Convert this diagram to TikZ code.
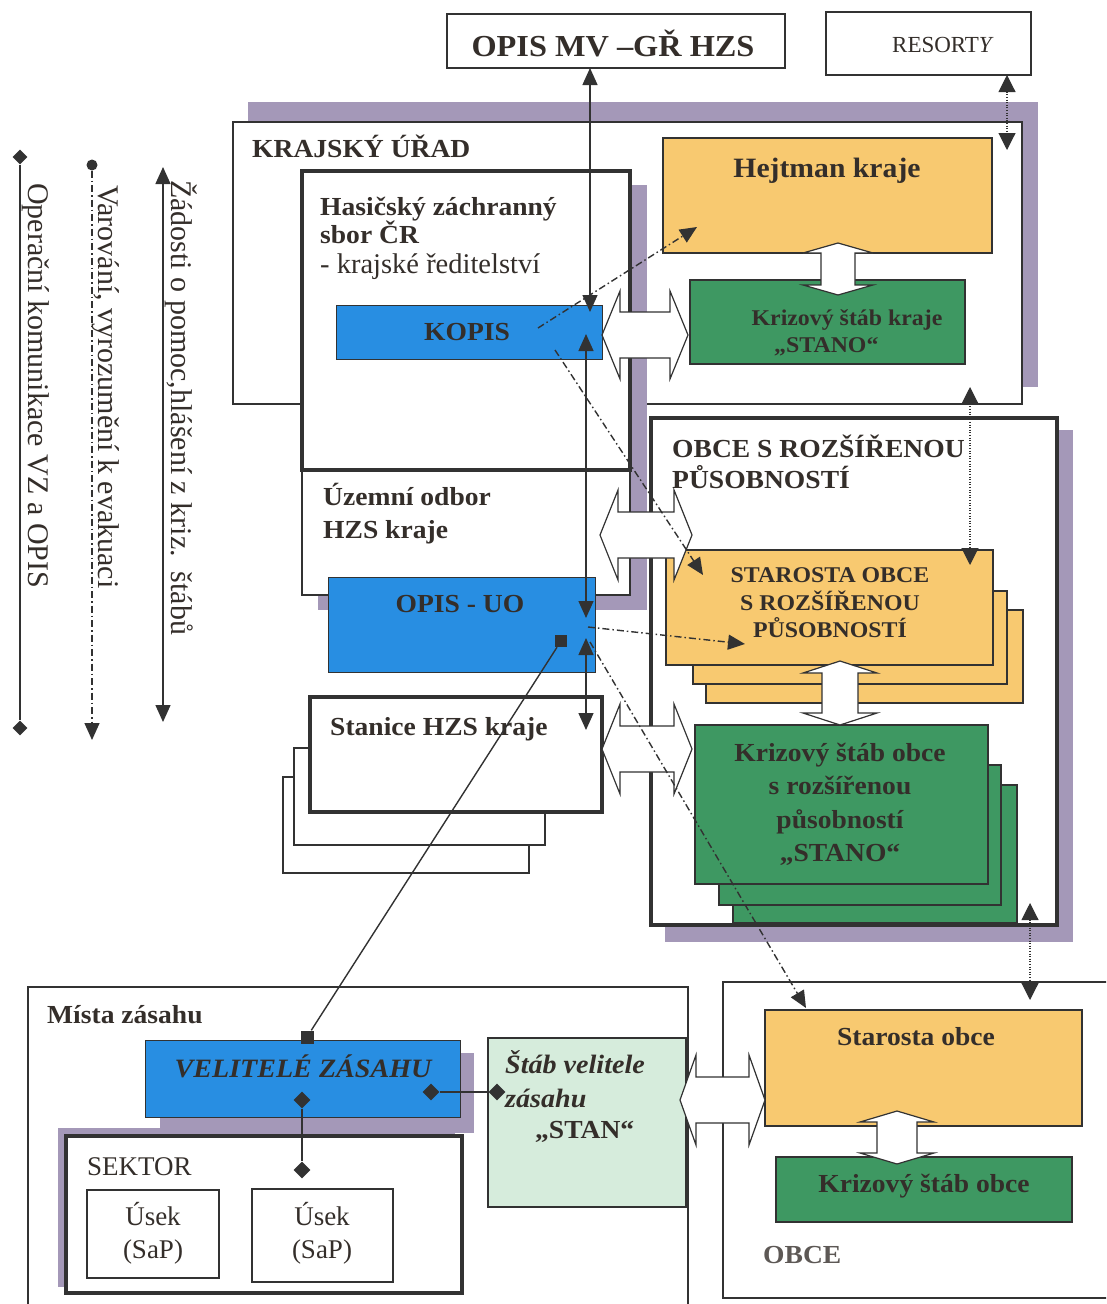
\documentclass[tikz,border=0pt]{standalone}
\usepackage{fontspec}
\setmainfont{Liberation Serif}[BoldFeatures={FakeStretch=1.06},BoldItalicFeatures={FakeStretch=1.06}]
\usetikzlibrary{arrows.meta,shapes.geometric}
\definecolor{cblue}{RGB}{40,142,226}
\definecolor{corange}{RGB}{248,201,112}
\definecolor{cgreen}{RGB}{62,152,98}
\definecolor{clgreen}{RGB}{214,236,220}
\definecolor{cshadow}{RGB}{164,152,184}
\definecolor{cline}{RGB}{50,50,50}
\definecolor{ctext}{RGB}{52,46,42}
\newcommand\bx[6]{\node[#6,anchor=north west,minimum width={(#4-#2)*1pt},minimum height={(#5-#3)*1pt},inner sep=0pt,outer sep=0pt] (#1) at (#2,#3) {};}
% horizontal double block arrow: xL xR yc H h L
\newcommand\hdarr[6]{\draw[bigarrow] (#1,#3) -- ({#1+#6},{#3-#4}) -- ({#1+#6},{#3-#5}) -- ({#2-#6},{#3-#5}) -- ({#2-#6},{#3-#4}) -- (#2,#3) -- ({#2-#6},{#3+#4}) -- ({#2-#6},{#3+#5}) -- ({#1+#6},{#3+#5}) -- ({#1+#6},{#3+#4}) -- cycle;}
% vertical double block arrow: xc ytop ybot W w L
\newcommand\vdarr[6]{\draw[bigarrow] (#1,#2) -- ({#1+#4},{#2+#6}) -- ({#1+#5},{#2+#6}) -- ({#1+#5},{#3-#6}) -- ({#1+#4},{#3-#6}) -- (#1,#3) -- ({#1-#4},{#3-#6}) -- ({#1-#5},{#3-#6}) -- ({#1-#5},{#2+#6}) -- ({#1-#4},{#2+#6}) -- cycle;}
\tikzset{
 shadowbox/.style={fill=cshadow,draw=none},
 wbox/.style={fill=white,draw=cline,line width=1.2pt},
 midbox/.style={fill=white,draw=cline,line width=2pt},
 thickbox/.style={fill=white,draw=cline,line width=3.2pt},
 bluebox/.style={fill=cblue,draw=cline,line width=1pt},
 orangebox/.style={fill=corange,draw=cline,line width=1.2pt},
 greenbox/.style={fill=cgreen,draw=cline,line width=1.2pt},
 lgreenbox/.style={fill=clgreen,draw=cline,line width=1.2pt},
 bigarrow/.style={fill=white,draw=cline,line width=1.2pt,line join=miter},
 sol/.style={draw=cline,line width=1.4pt},
 dashdot/.style={draw=cline,line width=1.4pt,dash pattern=on 7pt off 3pt on 1.5pt off 3pt},
 dots/.style={draw=cline,line width=1.1pt,dash pattern=on 1pt off 1.6pt},
 dmd/.style={diamond,fill=cline,draw=none,inner sep=0pt,aspect=1},
 sqm/.style={rectangle,fill=cline,draw=none,inner sep=0pt},
 txt/.style={inner sep=0pt,text=ctext},
 bA/.style={txt,font=\fontsize{28}{32}\selectfont\bfseries},
 bT/.style={txt,font=\fontsize{30.5}{34}\selectfont\bfseries},
 bB/.style={txt,font=\fontsize{26}{30}\selectfont\bfseries},
 bC/.style={txt,font=\fontsize{22.5}{26}\selectfont\bfseries},
 biB/.style={txt,font=\fontsize{26.5}{30}\selectfont\bfseries\itshape},
 nB/.style={txt,font=\fontsize{27}{31}\selectfont},
 nK/.style={txt,font=\fontsize{28.5}{32}\selectfont},
 nC/.style={txt,font=\fontsize{23}{27}\selectfont},
 legtxt/.style={txt,font=\fontsize{30}{34}\selectfont},
}
\begin{document}
\begin{tikzpicture}[x=1pt,y=-1pt,>={Triangle[length=17pt,width=15pt]}]
\clip (0,0) rectangle (1106,1304);
\fill[white] (0,0) rectangle (1106,1304);

% ---------- legend ----------
\node[dmd,minimum size=15pt] (ld1) at (20,157) {};
\node[dmd,minimum size=15pt] (ld2) at (20,728) {};
\draw[sol] (ld1) -- (ld2);
\node[legtxt,rotate=-90,anchor=base west] (lt1) at (28,183) {Operační komunikace VZ a OPIS};
\node[circle,fill=cline,inner sep=0pt,minimum size=11pt] (lc) at (92,165) {};
\coordinate (lce) at (92,740);
\draw[dashdot,->] (lc) -- (lce);
\node[legtxt,rotate=-90,anchor=base west] (lt2) at (98,185) {Varování, vyrozumění k evakuaci};
\coordinate (l3a) at (163,167);
\coordinate (l3b) at (163,722);
\draw[sol,<->] (l3a) -- (l3b);
\node[legtxt,rotate=-90,anchor=base west] (lt3) at (171,180) {Žádosti o pomoc,hlášení z kriz.\ \ štábů};

% ---------- top ----------
\bx{opismv}{447}{14}{785}{68}{wbox}
\node[bT,anchor=base] (topismv) at (613,56) {OPIS MV –GŘ HZS};
\bx{resorty}{826}{12}{1031}{75}{wbox}
\node[nC,anchor=base] (tresorty) at (943,52) {RESORT\textit{Y}};

% ---------- krajsky urad ----------
\bx{kushadow}{248}{102}{1038}{387}{shadowbox}
\bx{ku}{233}{122}{1022}{404}{wbox}
\node[bB,anchor=base west] (tku) at (252,157) {KRAJSKÝ ÚŘAD};

\bx{hzsshadow}{318}{185}{647}{610}{shadowbox}
\bx{uo}{302}{470}{630}{595}{midbox}
\bx{hzs}{302}{171}{630}{470}{thickbox}
\node[bB,anchor=base west] (thzs1) at (320,215) {Hasičský záchranný};
\node[bB,anchor=base west] (thzs2) at (320,243) {sbor ČR};
\node[nK,anchor=base west] (thzs3) at (320,273) {- krajské ředitelství};
\bx{kopis}{336}{305}{602}{359}{bluebox}
\node[bB,anchor=base] (tkopis) at (467,340) {KOPIS};

\bx{hejtman}{663}{138}{992}{253}{orangebox}
\node[bA,anchor=base] (thejtman) at (827,177) {Hejtman kraje};
\bx{ksk}{690}{280}{965}{364}{greenbox}
\node[bC,anchor=base] (tksk1) at (847,325) {Krizový štáb kraje};
\node[bC,anchor=base west] (tksk2) at (774,352) {„STANO“};
\vdarr{838}{243}{295}{35}{17}{10}
\hdarr{602}{688}{335}{44}{23}{18}

\node[bB,anchor=base west] (tuo1) at (323,505) {Územní odbor};
\node[bB,anchor=base west] (tuo2) at (323,538) {HZS kraje};
\bx{opisuo}{328}{577}{595}{672}{bluebox}
\node[bB,anchor=base] (topisuo) at (460,612) {OPIS - UO};

% stanice stack
\bx{st3}{283}{777}{529}{873}{wbox}
\bx{st2}{294}{748}{545}{845}{wbox}
\bx{st1}{310}{697}{602}{812}{thickbox}
\node[bB,anchor=base west] (tst) at (330,735) {Stanice HZS kraje};

% ---------- obce s rozsirenou pusobnosti ----------
\bx{orpshadow}{665}{430}{1073}{942}{shadowbox}
\bx{orp}{651}{418}{1057}{925}{thickbox}
\node[bB,anchor=base west] (torp1) at (672,457) {OBCE S ROZŠÍŘENOU};
\node[bB,anchor=base west] (torp2) at (672,488) {PŮSOBNOSTÍ};
\bx{sor3}{706}{610}{1023}{703}{orangebox}
\bx{sor2}{693}{591}{1007}{684}{orangebox}
\bx{sor1}{666}{550}{993}{665}{orangebox}
\node[bC,anchor=base] (tsor1) at (830,582) {STAROSTA OBCE};
\node[bC,anchor=base] (tsor2) at (830,610) {S ROZŠÍŘENOU};
\node[bC,anchor=base] (tsor3) at (830,637) {PŮSOBNOSTÍ};
\bx{kso3}{733}{785}{1017}{923}{greenbox}
\bx{kso2}{719}{765}{1001}{905}{greenbox}
\bx{kso1}{695}{725}{988}{884}{greenbox}
\node[bB,anchor=base] (tkso1) at (840,761) {Krizový štáb obce};
\node[bB,anchor=base] (tkso2) at (840,794) {s rozšířenou};
\node[bB,anchor=base] (tkso3) at (840,828) {působností};
\node[bB,anchor=base] (tkso4) at (840,861) {„STANO“};
\vdarr{840}{661}{725}{37}{18}{12}
\hdarr{600}{692}{535}{45}{23}{18}
\hdarr{602}{692}{749}{45}{23}{18}

% ---------- mista zasahu ----------
\bx{mz}{28}{987}{688}{1330}{wbox}
\node[bB,anchor=base west] (tmz) at (47,1023) {Místa zásahu};
\bx{vzshadow}{160}{1053}{474}{1133}{shadowbox}
\bx{sekshadow}{58}{1128}{455}{1287}{shadowbox}
\bx{vz}{145}{1040}{460}{1117}{bluebox}
\node[biB,anchor=base] (tvz) at (303,1077) {VELITELÉ ZÁSAHU};
\bx{sek}{66}{1136}{462}{1293}{thickbox}
\node[nB,anchor=base west] (tsek) at (87,1175) {SEKTOR};
\bx{us1}{87}{1190}{219}{1278}{wbox}
\bx{us2}{252}{1189}{393}{1282}{wbox}
\node[nB,anchor=base] (tus1a) at (153,1225) {Úsek};
\node[nB,anchor=base] (tus1b) at (153,1258) {(SaP)};
\node[nB,anchor=base] (tus2a) at (322,1225) {Úsek};
\node[nB,anchor=base] (tus2b) at (322,1258) {(SaP)};
\bx{stab}{488}{1038}{686}{1207}{lgreenbox}
\node[biB,anchor=base west] (tstab1) at (505,1073) {Štáb velitele};
\node[biB,anchor=base west] (tstab2) at (505,1107) {zásahu};
\node[bB,anchor=base west] (tstab3) at (535,1138) {„STAN“};

% ---------- obce ----------
\bx{obce}{723}{982}{1140}{1298}{wbox}
\bx{sto}{765}{1010}{1082}{1126}{orangebox}
\node[bB,anchor=base] (tsto) at (916,1045) {Starosta obce};
\bx{kob}{776}{1157}{1072}{1222}{greenbox}
\node[bB,anchor=base] (tkob) at (924,1192) {Krizový štáb obce};
\node[bB,anchor=base west,text=ctext!80] (tobce) at (763,1263) {OBCE};
\vdarr{897}{1111}{1164}{37}{20}{11}
\hdarr{680}{765}{1100}{45}{23}{16}

% ---------- connectors ----------
% solid request arrows
\coordinate (s1a) at (590,68);  \coordinate (s1b) at (590,312);
\draw[sol,<->] (s1a) -- (s1b);
\coordinate (s2a) at (586,334); \coordinate (s2b) at (586,618);
\draw[sol,<->] (s2a) -- (s2b);
\coordinate (s3a) at (586,638); \coordinate (s3b) at (586,730);
\draw[sol,<->] (s3a) -- (s3b);
% warning dash-dot arrows
\coordinate (da1) at (538,328); \coordinate (da2) at (697,227);
\draw[dashdot,->] (da1) -- (da2);
\coordinate (db1) at (555,350); \coordinate (db2) at (703,575);
\draw[dashdot,->] (db1) -- (db2);
\coordinate (dc1) at (588,627); \coordinate (dc2) at (745,644);
\draw[dashdot,->] (dc1) -- (dc2);
\coordinate (dd1) at (590,642); \coordinate (dd2) at (806,1008);
\draw[dashdot,->] (dd1) -- (dd2);
% dotted arrows
\coordinate (p1a) at (1007,75);  \coordinate (p1b) at (1007,150);
\draw[dots,{Triangle[length=17pt,width=17pt]}-{Triangle[length=17pt,width=17pt]}] (p1a) -- (p1b);
\coordinate (p2a) at (970,387);  \coordinate (p2b) at (970,565);
\draw[dots,{Triangle[length=17pt,width=17pt]}-{Triangle[length=17pt,width=17pt]}] (p2a) -- (p2b);
\coordinate (p3a) at (1030,903); \coordinate (p3b) at (1030,1000);
\draw[dots,{Triangle[length=17pt,width=17pt]}-{Triangle[length=17pt,width=17pt]}] (p3a) -- (p3b);
% square-ended line OPIS-UO -- VZ
\node[sqm,minimum size=12pt] (q1) at (561,641) {};
\node[sqm,minimum size=13pt] (q2) at (307,1037) {};
\draw[sol] (q1) -- (q2);
% diamond lines
\node[dmd,minimum size=17pt] (dm1) at (431,1092) {};
\node[dmd,minimum size=17pt] (dm2) at (497,1092) {};
\draw[sol] (dm1) -- (dm2);
\node[dmd,minimum size=17pt] (dm3) at (302,1100) {};
\node[dmd,minimum size=17pt] (dm4) at (302,1170) {};
\draw[sol] (dm3) -- (dm4);
\end{tikzpicture}
\end{document}
